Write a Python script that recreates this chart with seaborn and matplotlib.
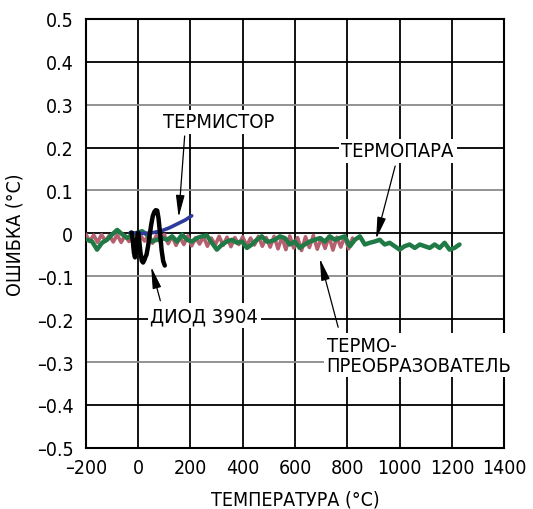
import matplotlib
matplotlib.use("Agg")
import matplotlib.pyplot as plt
import seaborn as sns
from matplotlib import font_manager as fm

sns.set_style("white")

# узкий шрифт, если есть; иначе обычный Liberation Sans помельче
narrow = None
for f in fm.fontManager.ttflist:
    fn = f.fname.lower()
    if ('narrow' in fn or 'condensed' in fn) and 'bold' not in fn and 'italic' not in fn \
            and 'oblique' not in fn and ('liberation' in fn or 'dejavusans' in fn or 'roboto' in fn):
        if narrow is None or 'liberation' in fn:
            narrow = f
if narrow is not None:
    fm.fontManager.addfont(narrow.fname)
    plt.rcParams['font.family'] = [narrow.name, 'DejaVu Sans']
    plt.rcParams['font.stretch'] = narrow.stretch
    fs_tick, fs_note = 14, 14.5
else:
    plt.rcParams['font.family'] = ['Liberation Sans', 'DejaVu Sans']
    fs_tick, fs_note = 12.5, 13.5
for k in ['text.color', 'axes.labelcolor', 'xtick.color', 'ytick.color']:
    plt.rcParams[k] = 'black'

# --- данные ---
x_ticks = [-200, 0, 200, 400, 600, 800, 1000, 1200, 1400]
y_ticks = [-0.5, -0.4, -0.3, -0.2, -0.1, 0, 0.1, 0.2, 0.3, 0.4, 0.5]
x_labels = ['–200', '0', '200', '400', '600', '800', '1000', '1200', '1400']
y_labels = ['–0.5', '–0.4', '–0.3', '–0.2', '–0.1', '0', '0.1', '0.2', '0.3', '0.4', '0.5']

# термопара
tc_t = [-195, -176, -157, -138, -119, -100, -80, -61, -42, -23, -4, 15, 34, 53, 72, 91, 111, 130, 149,
        168, 187, 206, 225, 244, 263, 282, 301, 321, 340, 359, 378, 397, 416, 435, 454, 473, 492,
        504, 523, 542, 561, 580, 599, 618, 637, 657, 676, 695, 714, 733, 752, 771, 790, 810, 829,
        848, 867, 886, 905, 924, 943, 962, 981, 1000, 1019, 1038, 1058, 1077, 1096, 1115, 1134,
        1153, 1172, 1191, 1210, 1229]
tc_err = [-0.015, -0.019, -0.038, -0.022, -0.015, -0.003, 0.008, -0.002, -0.011, -0.003, 0.001, 0.005,
          -0.003, -0.019, -0.015, -0.011, -0.015, -0.007, -0.019, -0.003, -0.015, -0.019, -0.011, -0.007,
          -0.005, -0.022, -0.038, -0.026, -0.019, -0.015, -0.022, -0.019, -0.034, -0.026, -0.015, -0.007,
          -0.019,
          -0.019, -0.015, -0.007, -0.011, -0.026, -0.019, -0.034, -0.026, -0.019, -0.015, -0.011, -0.019,
          -0.007, -0.015, -0.011, -0.007, -0.030, -0.015, -0.007, -0.026, -0.022, -0.019, -0.015, -0.026,
          -0.022, -0.030, -0.038, -0.030, -0.026, -0.034, -0.026, -0.030, -0.034, -0.026, -0.034, -0.022,
          -0.038, -0.034, -0.026]

# термопреобразователь (RTD)
rtd_t = [-200, -185, -170, -155, -140, -125, -110, -95, -80, -65, -50, -35, -20, -5, 10, 25, 40, 55, 70,
         85, 100, 115, 130, 145, 160, 175, 190, 205, 220, 235, 250, 265, 280, 295, 310, 325, 340, 355,
         370, 385, 400, 415, 430, 445, 460, 475, 490, 505, 520, 535, 550, 565, 580, 595, 610, 625, 640,
         655, 670, 685, 700, 715, 730, 745, 760, 775, 790, 805, 820]
rtd_err = [-0.002, -0.019, -0.004, -0.021, -0.003, -0.018, -0.005, -0.020,
           -0.003, -0.021, -0.005, -0.019, -0.002, -0.022, -0.006, -0.018, -0.004, -0.023, -0.005, -0.020,
           -0.003,
           -0.024, -0.007, -0.028, -0.009, -0.026, -0.006, -0.029, -0.010, -0.025, -0.008, -0.030, -0.011,
           -0.027, -0.007, -0.028, -0.009, -0.031, -0.010, -0.026, -0.008, -0.029, -0.011, -0.027, -0.007,
           -0.030, -0.010,
           -0.032, -0.007, -0.036, -0.009, -0.038, -0.006, -0.034, -0.010, -0.040, -0.008, -0.033, -0.005,
           -0.037, -0.011, -0.035, -0.007, -0.039, -0.009, -0.032, -0.008, -0.036, -0.011]

# термистор
ts_t = [-30, 0, 30, 60, 90, 120, 150, 180, 205]
ts_err = [0.002, 0.0, 0.0, 0.002, 0.006, 0.013, 0.022, 0.031, 0.041]

# диод 3904
d_t = [-25, -20, -16, -12, -8, -4, 0, 4, 9, 14, 19, 24, 28, 32, 38, 44, 50, 56, 62, 67, 73, 78, 84,
       90, 96, 102]
d_err = [0.002, -0.02, -0.045, -0.056, -0.04, -0.012, 0.002, -0.015, -0.045, -0.064, -0.068, -0.062,
         -0.055, -0.05, -0.03, -0.005, 0.02, 0.04, 0.05, 0.054, 0.053, 0.035, 0.0, -0.04, -0.065, -0.075]

fig = plt.figure(figsize=(5.33, 5.10), dpi=100)
ax = fig.add_axes([0.161, 0.12, 0.785, 0.841])

# сетка
for xv in x_ticks:
    ax.axvline(xv, color='black', lw=1.3, zorder=1)
for i, yv in enumerate(y_ticks):
    ax.axhline(yv, color='black' if i % 2 == 1 else '#8a8a8a', lw=1.3, zorder=1)

sns.lineplot(x=rtd_t, y=rtd_err, ax=ax, color='#b5606f', lw=2.6, estimator=None, sort=False, zorder=3)
sns.lineplot(x=tc_t, y=tc_err, ax=ax, color='#1f7a45', lw=3.2, estimator=None, sort=False, zorder=4)
sns.lineplot(x=ts_t, y=ts_err, ax=ax, color='#2e3b9c', lw=2.6, estimator=None, sort=False, zorder=5)
sns.lineplot(x=d_t, y=d_err, ax=ax, color='black', lw=3.2, estimator=None, sort=False, zorder=6)

ax.set_xlim(-200, 1400)
ax.set_ylim(-0.5, 0.5)
ax.set_xticks(x_ticks)
ax.set_xticklabels(x_labels)
ax.set_yticks(y_ticks)
ax.set_yticklabels(y_labels)
ax.tick_params(length=0, labelsize=fs_tick, pad=7)
ax.tick_params(axis='y', pad=9)
for s in ax.spines.values():
    s.set_color('black')
    s.set_linewidth(1.5)

ax.set_xlabel('ТЕМПЕРАТУРА (°C)', fontsize=fs_tick, labelpad=9)
ax.set_ylabel('ОШИБКА (°C)', fontsize=fs_tick, labelpad=9)

box = dict(facecolor='white', edgecolor='none', pad=2)
ax.text(310, 0.26, 'ТЕРМИСТОР', fontsize=fs_note, ha='center', va='center', bbox=box, zorder=7)
ax.text(992, 0.192, 'ТЕРМОПАРА', fontsize=fs_note, ha='center', va='center', bbox=box, zorder=7)
ax.text(253, -0.192, 'ДИОД 3904', fontsize=fs_note, ha='center', va='center', bbox=box, zorder=7)
ax.text(721, -0.284, 'ТЕРМО-\nПРЕОБРАЗОВАТЕЛЬ', fontsize=fs_note, ha='left', va='center',
        linespacing=1.05, bbox=box, zorder=7)

arrow = dict(arrowstyle='-|>,head_width=0.22,head_length=1.1', color='black', lw=0.9,
             mutation_scale=12, shrinkA=0, shrinkB=0)
ax.annotate('', xy=(155, 0.038), xytext=(178, 0.227), arrowprops=arrow, zorder=8)
ax.annotate('', xy=(910, -0.013), xytext=(983, 0.157), arrowprops=arrow, zorder=8)
ax.annotate('', xy=(50, -0.078), xytext=(85, -0.157), arrowprops=arrow, zorder=8)
ax.annotate('', xy=(695, -0.059), xytext=(765, -0.219), arrowprops=arrow, zorder=8)

fig.savefig('out.png', dpi=100)
